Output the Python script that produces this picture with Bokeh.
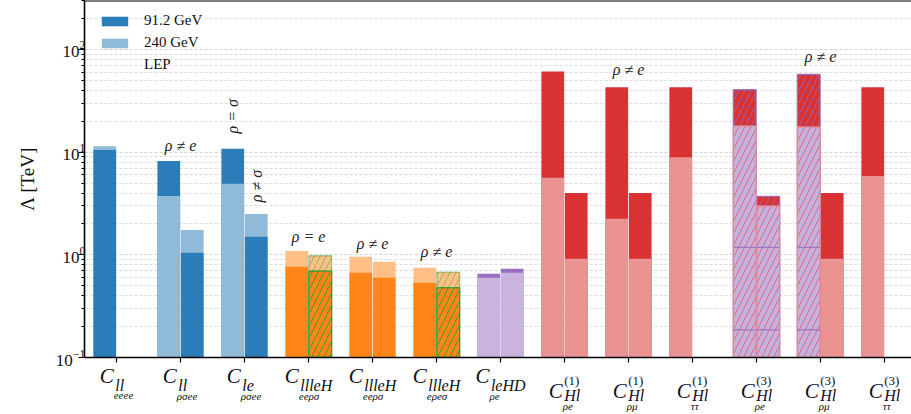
import numpy as np
from bokeh.plotting import figure
from bokeh.layouts import column
from bokeh.models import (ColumnDataSource, Legend, LegendItem,
                          FixedTicker, Span, Range1d)
from bokeh.core.properties import value
from bokeh.embed import file_html
from bokeh.resources import INLINE

# ---------------- data ----------------
# x tick labels: C_{sub}^{sup} with a second-level subscript
label_main = ["C"] * 13
label_sub = ["ll", "ll", "le", "llleH", "llleH", "llleH", "leHD",
             "Hl", "Hl", "Hl", "Hl", "Hl", "Hl"]
label_subsub = ["eeee", "ρσee", "ρσee", "eeρσ", "eeρσ", "eρeσ", "ρe",
                "ρe", "ρμ", "ττ", "ρe", "ρμ", "ττ"]
label_sup = ["", "", "", "", "", "", "", "(1)", "(1)", "(1)", "(3)", "(3)", "(3)"]

# bars: category index and side within the category
bar_cat = [0, 1, 1, 2, 2, 3, 3, 4, 4, 5, 5, 6, 6, 7, 7, 8, 8, 9, 10, 10, 11, 11, 12]
bar_side = ["L", "L", "R", "L", "R", "L", "R", "L", "R", "L", "R", "L", "R",
            "L", "R", "L", "R", "L", "L", "R", "L", "R", "L"]
lam_912 = [10.5, 8.2, 1.05, 10.8, 1.5, 0.765, 0.695, 0.668, 0.598, 0.535, 0.478,
           0.654, 0.731, 61.0, 4.0, 42.8, 4.0, 42.8, 40.6, 3.71, 57.2, 4.0, 42.8]
lam_240 = [11.4, 3.74, 1.75, 4.92, 2.5, 1.09, 0.98, 0.956, 0.855, 0.748, 0.679,
           0.598, 0.668, 5.63, 0.915, 2.24, 0.915, 8.94, 18.0, 2.99, 17.6, 0.915, 5.85]
bar_family = ["blue"] * 5 + ["orange"] * 6 + ["purple"] * 2 + ["red"] * 10
bar_lep = ["", "", "", "", "", "", "green", "", "", "", "green", "", "",
           "", "", "", "", "", "purple", "purple", "purple", "", ""]
lep_marks = [1.18, 0.186]

# annotations
ann_text = ["ρ ≠ e", "ρ = σ", "ρ ≠ σ", "ρ = e", "ρ ≠ e", "ρ ≠ e", "ρ ≠ e", "ρ ≠ e"]
ann_x = [1.0, 1.82, 2.19, 3.0, 4.0, 5.0, 8.0, 11.0]
ann_y = [11.7, 22.4, 4.68, 1.5, 1.28, 1.07, 64.0, 85.5]
ann_rot = [0, 90, 90, 0, 0, 0, 0, 0]

# y ticks
ytick_vals = [0.1, 1, 10, 100]
y_label = "Λ [TeV]"
legend_labels = ["91.2 GeV", "240 GeV", "LEP"]

# ---------------- style / geometry ----------------
FONT = "'Liberation Serif', 'DejaVu Serif', serif"
DARK = {"blue": "#2a7db8", "orange": "#ff851a", "purple": "#996fc0", "red": "#d83233"}
LIGHT = {"blue": "#8fbbd9", "orange": "#ffbf86", "purple": "#cab3de", "red": "#eb9393"}
GREEN = "#2ca02c"
PURP = "#9467bd"
Y_MIN, Y_MAX = 0.1, 300
W = 911
FRAME_TOP, FRAME_BOTTOM = 0, 357
BL = 84
MAIN_BB = 14                      # main figure border below frame (x-axis ticks, 10^-1 label)
H_MAIN = FRAME_BOTTOM + MAIN_BB
STRIP_TOP = FRAME_BOTTOM + 3      # the label strip overlaps the main border (transparent)
OVERLAP = H_MAIN - STRIP_TOP
H_LAB = 414 - STRIP_TOP
PX_PER_CAT = 64.0
X0 = -0.5
x_end = X0 + (W - BL) / PX_PER_CAT

p = figure(width=W, height=H_MAIN, x_range=Range1d(X0, x_end), y_range=Range1d(Y_MIN, Y_MAX),
           y_axis_type="log", output_backend="svg", toolbar_location=None,
           min_border_left=BL, min_border_right=0, min_border_top=FRAME_TOP,
           min_border_bottom=MAIN_BB)
p.outline_line_color = None
p.background_fill_color = "white"
p.border_fill_color = "white"

# axes / ticks
yt = FixedTicker(ticks=ytick_vals,
                 minor_ticks=[m * 10.0 ** d for d in range(-1, 3) for m in range(2, 10)])
p.yaxis.ticker = yt
p.ygrid.ticker = yt
p.xaxis.ticker = FixedTicker(ticks=list(range(len(label_sub))), minor_ticks=[])
for ax in (p.xaxis, p.yaxis):
    ax.axis_line_color = "black"
    ax.axis_line_width = 1.6
    ax.major_tick_line_color = "black"
    ax.major_tick_line_width = 1.2
    ax.minor_tick_line_color = "black"
    ax.major_tick_in = 0
    ax.minor_tick_in = 0
p.xaxis.major_label_text_font_size = "1px"
p.xaxis.major_label_text_color = None
p.xaxis.major_label_standoff = 0
p.xaxis.major_tick_out = 5
p.xaxis.minor_tick_out = 0
p.yaxis.major_tick_out = 6
p.yaxis.minor_tick_out = 3
p.yaxis.major_label_text_font = FONT
p.yaxis.major_label_text_font_size = "17px"
p.yaxis.major_label_text_color = "#111111"
p.yaxis.major_label_standoff = -7
p.yaxis.axis_label = y_label
p.yaxis.axis_label_text_font = FONT
p.yaxis.axis_label_text_font_style = "normal"
p.yaxis.axis_label_text_font_size = "19px"
p.yaxis.axis_label_text_color = "#111111"
p.yaxis.axis_label_standoff = 15

p.xgrid.grid_line_color = None
p.ygrid.grid_line_color = "#d2d2d2"
p.ygrid.grid_line_dash = "3 2"
p.ygrid.grid_line_width = 1
p.ygrid.minor_grid_line_color = "#dddddd"
p.ygrid.minor_grid_line_dash = "3 2"
p.ygrid.minor_grid_line_width = 1

# top spine
p.add_layout(Span(location=Y_MAX, dimension="width", line_color="black", line_width=2))

# ---------------- bars ----------------
def edges(cat, side):
    if side == "L":
        return cat - 0.361, cat - 0.006
    return cat + 0.006, cat + 0.361

def style(series, fam, lep):
    fill = DARK[fam] if series == "91" else LIGHT[fam]
    if lep == "green":
        a = 0.9 if series == "91" else 0.45
        return dict(fill=fill, lc=GREEN, la=a, hp="/", hc=GREEN, ha=a)
    if lep == "purple":
        if series == "91":
            return dict(fill=DARK["red"], lc=PURP, la=0.85, hp="/", hc=PURP, ha=0.8)
        return dict(fill="#c6b2dc", lc="#e3899a", la=0.9, hp="/", hc="#e0566b", ha=0.8)
    return dict(fill=fill, lc="white", la=0.0, hp=" ", hc="white", ha=0.0)

cols = ["left", "right", "top", "fill", "lc", "la", "hp", "hc", "ha"]
layers = {"back": {k: [] for k in cols}, "front": {k: [] for k in cols}}
seg = {"x0": [], "x1": [], "y": []}
for c, s, v91, v240, fam, lep in zip(bar_cat, bar_side, lam_912, lam_240, bar_family, bar_lep):
    l, r = edges(c, s)
    if v91 >= v240:
        order = [("back", "91", v91), ("front", "240", v240)]
    else:
        order = [("back", "240", v240), ("front", "91", v91)]
    for layer, series, v in order:
        d = layers[layer]
        d["left"].append(l)
        d["right"].append(r)
        d["top"].append(v)
        for k, val in style(series, fam, lep).items():
            d[k].append(val)
    if lep == "purple":
        for m in lep_marks:
            seg["x0"].append(l)
            seg["x1"].append(r)
            seg["y"].append(m)

for layer in ("back", "front"):
    src = ColumnDataSource(layers[layer])
    p.quad(left="left", right="right", top="top", bottom=Y_MIN, source=src,
           fill_color="fill", line_color="lc", line_alpha="la", line_width=1.4,
           hatch_pattern="hp", hatch_color="hc", hatch_alpha="ha",
           hatch_scale=12, hatch_weight=1)

p.segment(x0="x0", x1="x1", y0="y", y1="y", source=ColumnDataSource(seg),
          line_color=PURP, line_alpha=0.75, line_width=1.2)

# annotations
p.text(x="x", y="y", text="text", angle="angle",
       source=ColumnDataSource(dict(x=ann_x, y=ann_y, text=ann_text,
                                    angle=[float(a) for a in np.deg2rad(ann_rot)])),
       text_align="center", text_baseline="middle", text_font=value(FONT),
       text_font_style="italic", text_font_size="16px", text_color="#222222")

# ---------------- legend ----------------
dummy = dict(left=[-5], right=[-5], top=[1], bottom=[1])
d1 = p.quad(fill_color=DARK["blue"], line_color=None, **dummy)
d2 = p.quad(fill_color=LIGHT["blue"], line_color=None, **dummy)
d3 = p.quad(fill_alpha=0, line_alpha=0, **dummy)
FRAME_H = FRAME_BOTTOM - FRAME_TOP
leg_h = 3 * 17 + 2 * 5
legend = Legend(items=[LegendItem(label=legend_labels[0], renderers=[d1]),
                       LegendItem(label=legend_labels[1], renderers=[d2]),
                       LegendItem(label=legend_labels[2], renderers=[d3])],
                location=(14, FRAME_H - 12 - leg_h),
                label_text_font=FONT, label_text_font_size="15px", label_text_color="#111111",
                glyph_width=33, glyph_height=12, label_standoff=13, spacing=5,
                padding=0, margin=0, label_height=17,
                border_line_alpha=0, background_fill_alpha=0)
p.add_layout(legend)

# ---------------- x tick labels (strip below, y = pixels from the main frame bottom) ----------------
q = figure(width=W, height=H_LAB, x_range=p.x_range,
           y_range=Range1d(-(414 - FRAME_BOTTOM), -(STRIP_TOP - FRAME_BOTTOM)),
           output_backend="svg", toolbar_location=None,
           x_axis_location=None, y_axis_location=None,
           min_border_left=BL, min_border_right=0, min_border_top=0, min_border_bottom=0,
           margin=(-OVERLAP, 0, 0, 0))
q.outline_line_color = None
q.xgrid.visible = False
q.ygrid.visible = False
q.background_fill_alpha = 0
q.border_fill_alpha = 0

CW = {"C": 0.667, "l": 0.278, "e": 0.444, "H": 0.722, "D": 0.722, "ρ": 0.5,
      "σ": 0.55, "μ": 0.5, "τ": 0.44, "(": 0.333, ")": 0.333, "−": 0.6}

def tw(s, size):
    return sum(CW.get(ch, 0.5) for ch in s) * size

FS_C, FS_SUB, FS_SS, FS_SUP = 21, 16, 11, 13
parts = {k: {"x": [], "y": [], "t": []} for k in ("C", "sub", "ss", "sup")}
for i, (cm, sb, ss, sp) in enumerate(zip(label_main, label_sub, label_subsub, label_sup)):
    wC = tw(cm, FS_C)
    sub_left = wC + 1.5
    ss_left = sub_left - 1.5
    right = max(sub_left + tw(sb, FS_SUB), ss_left + tw(ss, FS_SS), sub_left + tw(sp, FS_SUP))
    shift = -right / 2.0
    if sp:
        yC, ySub, ySS, ySup = -33, -38, -48, -23
    else:
        yC, ySub, ySS, ySup = -18, -28, -38, 0
    for key, dx, yy, t in (("C", shift + wC, yC, cm), ("sub", shift + sub_left, ySub, sb),
                           ("ss", shift + ss_left, ySS, ss), ("sup", shift + sub_left, ySup, sp)):
        if t:
            parts[key]["x"].append(i + dx / PX_PER_CAT)
            parts[key]["y"].append(yy)
            parts[key]["t"].append(t)

for key, size, align, italic in (("C", FS_C, "right", True), ("sub", FS_SUB, "left", True),
                                 ("ss", FS_SS, "left", True), ("sup", FS_SUP, "left", False)):
    q.text(x="x", y="y", text="t", source=ColumnDataSource(parts[key]),
           text_align=align, text_baseline="alphabetic", text_font=value(FONT),
           text_font_style="italic" if italic else "normal",
           text_font_size=f"{size}px", text_color="#111111")

layout = column(p, q, spacing=0)
open("out.html", "w").write(file_html(layout, INLINE))
